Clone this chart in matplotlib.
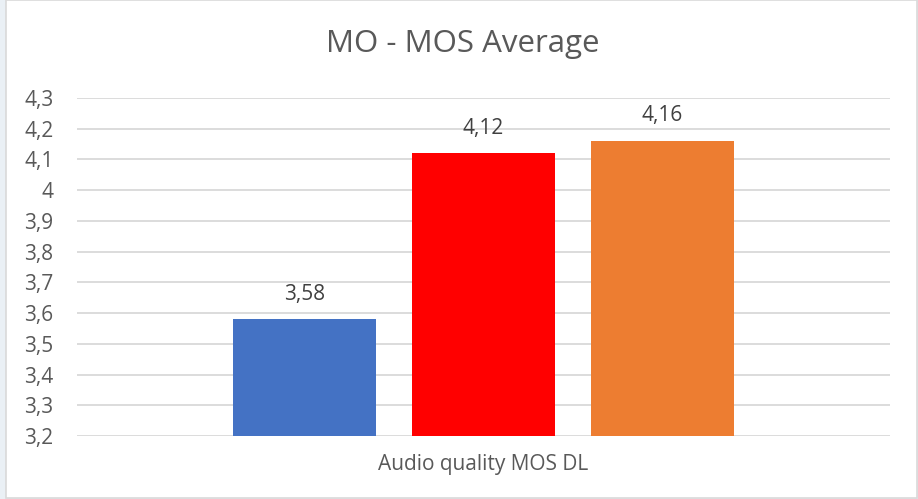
import numpy as np
import matplotlib.pyplot as plt
from matplotlib.patches import Rectangle
from matplotlib.ticker import FuncFormatter

plt.rcParams['font.family'] = ['Open Sans', 'DejaVu Sans']

# MOS average per operator, single category
category = 'Audio quality MOS DL'
values = [3.58, 4.12, 4.16]
colors = ['#4472C4', '#FF0000', '#ED7D31']
y_ticks = np.round(np.arange(3.2, 4.31, 0.1), 1)


def comma(v, pos=None):
    s = f'{v:.2f}'.rstrip('0').rstrip('.')
    return s.replace('.', ',')


fig = plt.figure(figsize=(9.18, 4.99), dpi=100, facecolor='#EAF0F5')
ax = fig.add_axes([0.0839, 0.1263, 0.8856, 0.6773])

# white chart area with a thin border
fig.patches.append(Rectangle((0.006, 0.003), 0.9924, 0.996, transform=fig.transFigure,
                             facecolor='white', edgecolor='#D9D9D9', linewidth=1.2, zorder=-1))

width = 143 / 813
step = 179 / 813
offsets = (np.arange(len(values)) - 1) * step
bars = ax.bar(offsets, np.array(values) - 3.2, width=width, bottom=3.2, color=colors, zorder=3)

for b, v in zip(bars, values):
    ax.text(b.get_x() + b.get_width() / 2, v + 0.082, comma(v), ha='center', va='center',
            fontsize=15, color='#404040')

ax.set_xlim(-0.5, 0.5)
ax.set_ylim(3.2, 4.3)
ax.set_yticks(y_ticks)
ax.yaxis.set_major_formatter(FuncFormatter(comma))
ax.grid(axis='y', color='#D9D9D9', linewidth=1.3, zorder=0)
ax.set_xticks([0])
ax.set_xticklabels([category])
ax.tick_params(axis='both', length=0, labelsize=15, colors='#595959')
ax.tick_params(axis='x', pad=13)
ax.tick_params(axis='y', pad=17)
for s in ax.spines.values():
    s.set_visible(False)

fig.text(0.504, 0.896, 'MO - MOS Average', ha='center', va='baseline', fontsize=22.5, color='#595959')

plt.savefig('out.png', dpi=100)
